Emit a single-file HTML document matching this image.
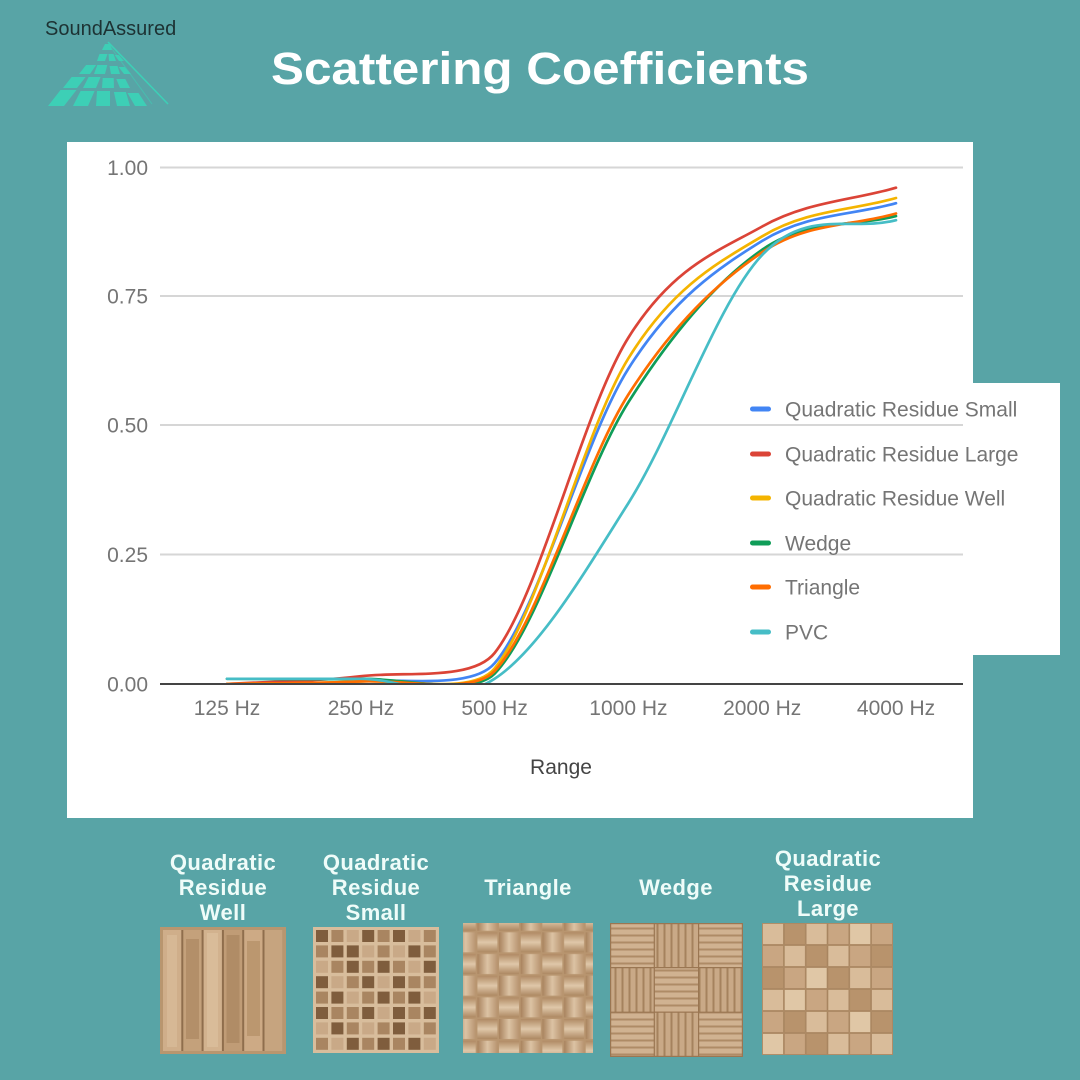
<!DOCTYPE html>
<html><head><meta charset="utf-8"><style>
html,body{margin:0;padding:0;background:#58a4a6;}
svg{display:block;font-family:"Liberation Sans",Arial,sans-serif;}
.d{fill:#7f5d3d}.m{fill:#a98561}.l{fill:#c9a987}
.qa{fill:#d9bc9a}.qb{fill:#c9a682}.qc{fill:#b8936c}.qe{fill:#e0c7a6}
</style></head><body>
<svg width="1080" height="1080" viewBox="0 0 1080 1080" xmlns="http://www.w3.org/2000/svg">
<defs>
<clipPath id="plot"><rect x="160" y="140" width="805" height="544"/></clipPath>
<linearGradient id="tg1" x1="0" y1="0" x2="1" y2="0"><stop offset="0" stop-color="#a8825d"/><stop offset="0.5" stop-color="#dcc3a4"/><stop offset="1" stop-color="#b89470"/></linearGradient>
<linearGradient id="tg2" x1="0" y1="0" x2="0" y2="1"><stop offset="0" stop-color="#b08a64"/><stop offset="0.5" stop-color="#dfc7a9"/><stop offset="1" stop-color="#ad8862"/></linearGradient>
<pattern id="tri" width="43.33" height="43.33" patternUnits="userSpaceOnUse">
<rect width="43.33" height="43.33" fill="#b8956f"/>
<rect x="0.8" y="0.8" width="20" height="20" fill="url(#tg1)"/>
<rect x="22.4" y="0.8" width="20" height="20" fill="url(#tg2)"/>
<rect x="0.8" y="22.4" width="20" height="20" fill="url(#tg2)"/>
<rect x="22.4" y="22.4" width="20" height="20" fill="url(#tg1)"/>
</pattern>
<pattern id="hs" width="12" height="7" patternUnits="userSpaceOnUse"><rect width="12" height="7" fill="#d0b291"/><rect y="4.5" width="12" height="2" fill="#ae8b66"/></pattern>
<pattern id="vs" width="7" height="12" patternUnits="userSpaceOnUse"><rect width="7" height="12" fill="#c9a987"/><rect x="4.5" width="2" height="12" fill="#a5825e"/></pattern>
</defs>

<rect width="1080" height="1080" fill="#58a4a6"/>

<!-- Logo -->
<text x="45" y="35" font-size="20" fill="#1d3233">SoundAssured</text>
<g fill="#3dcfb6">
<polygon points="60.5,90 76.5,90 64,106 48,106"/>
<polygon points="80.6,91 94.6,91 88,106 73,106"/>
<polygon points="97,91 110,91 110,106 96,106"/>
<polygon points="113.9,92 125.9,92 130,106 117,106"/>
<polygon points="127.5,93 138.5,93 147,106 135,106"/>
<polygon points="71.6,77 85.6,77 77,88 63,88"/>
<polygon points="88.6,77 100.6,77 96,88 83,88"/>
<polygon points="102.7,78 113.7,78 114,88 102,88"/>
<polygon points="116.3,79 125.3,79 130,88 120,88"/>
<polygon points="86.1,65 96.1,65 90,74 79,74"/>
<polygon points="97.3,65 107.3,65 105,74 94,74"/>
<polygon points="109.5,66 117.5,66 120,74 111,74"/>
<polygon points="118.6,67 124.6,67 131,74 124,74"/>
<polygon points="99.5,54 107.5,54 105,61 97,61"/>
<polygon points="108.5,54 113.5,54 116,61 109,61"/>
<polygon points="114.7,55 118.7,55 124,61 119,61"/>
<polygon points="105,44 110,44 112,50 102,50"/>
</g>
<line x1="108" y1="42" x2="168" y2="104" stroke="#3dcfb6" stroke-width="1.6"/>
<line x1="110" y1="46" x2="152" y2="104" stroke="#3dcfb6" stroke-width="1" opacity="0.6"/>

<!-- Title -->
<text x="271" y="84" font-size="45" font-weight="bold" fill="#ffffff" textLength="538" lengthAdjust="spacingAndGlyphs">Scattering Coefficients</text>

<!-- Chart panel -->
<rect x="67" y="142" width="906" height="676" fill="#ffffff"/>
<rect x="973" y="383" width="87" height="272" fill="#ffffff"/>

<!-- gridlines -->
<g stroke="#d6d6d6" stroke-width="2">
<line x1="160" y1="167.5" x2="963" y2="167.5"/>
<line x1="160" y1="296" x2="963" y2="296"/>
<line x1="160" y1="425" x2="963" y2="425"/>
<line x1="160" y1="554.5" x2="963" y2="554.5"/>
</g>

<!-- y labels -->
<g font-size="21" fill="#757575" text-anchor="end">
<text x="148" y="175">1.00</text>
<text x="148" y="303.5">0.75</text>
<text x="148" y="432.5">0.50</text>
<text x="148" y="562">0.25</text>
<text x="148" y="691.5">0.00</text>
</g>

<!-- series -->
<g clip-path="url(#plot)" fill="none" stroke-width="2.7" stroke-linecap="round" stroke-linejoin="round">
<path stroke="#4285f4" d="M227,684 C271.6,683.13 316.2,684.85 360.8,681.4 C405.4,677.95 472.3,689.4 494.6,663.3 C539.2,611.17 583.8,439 628.4,368.6 C673,298.2 717.6,268.47 762.2,240.9 C806.8,213.33 851.4,215.77 896,203.2"/>
<path stroke="#db4437" d="M227,684 C271.6,681.4 316.2,681.37 360.8,676.2 C405.4,671.03 472.3,681.2 494.6,653 C539.2,596.57 583.8,408.68 628.4,337.6 C673,266.52 717.6,251.48 762.2,226.5 C806.8,201.52 851.4,200.63 896,187.7"/>
<path stroke="#f4b400" d="M227,684 C271.6,683.13 316.2,683.98 360.8,681.4 C405.4,678.82 472.3,695.4 494.6,668.5 C539.2,614.65 583.8,430.33 628.4,358.3 C673,286.27 717.6,263.02 762.2,236.3 C806.8,209.58 851.4,210.77 896,198"/>
<path stroke="#0f9d58" d="M227,678.8 C271.6,678.8 316.2,679.65 360.8,678.8 C405.4,677.95 472.3,696.75 494.6,673.7 C539.2,627.6 583.8,472.87 628.4,402.2 C673,331.53 717.6,280.72 762.2,249.7 C806.8,218.68 851.4,227.3 896,216.1"/>
<path stroke="#ff6d00" d="M227,684 C271.6,683.13 316.2,683.55 360.8,681.4 C405.4,679.25 472.3,695 494.6,671.1 C539.2,623.28 583.8,464.3 628.4,394.5 C673,324.7 717.6,282.47 762.2,252.3 C806.8,222.13 851.4,226.43 896,213.5"/>
<path stroke="#46bdc6" d="M227,678.8 C271.6,678.8 316.2,678.8 360.8,678.8 C405.4,678.8 450,708.08 494.6,678.8 C539.2,649.52 583.8,573.75 628.4,503.1 C673,432.45 717.6,302.05 762.2,254.9 C806.8,207.75 851.4,231.77 896,220.2"/>
</g>

<!-- baseline -->
<line x1="160" y1="684" x2="963" y2="684" stroke="#444" stroke-width="2"/>

<!-- x labels -->
<g font-size="21" fill="#757575" text-anchor="middle">
<text x="227" y="715">125 Hz</text>
<text x="361" y="715">250 Hz</text>
<text x="494.6" y="715">500 Hz</text>
<text x="628.4" y="715">1000 Hz</text>
<text x="762.2" y="715">2000 Hz</text>
<text x="896" y="715">4000 Hz</text>
</g>
<text x="561" y="774" font-size="21" fill="#444" text-anchor="middle">Range</text>

<!-- legend -->
<g>
<rect x="750" y="406.5" width="21" height="5" rx="2.5" fill="#4285f4"/>
<rect x="750" y="451.5" width="21" height="5" rx="2.5" fill="#db4437"/>
<rect x="750" y="495.5" width="21" height="5" rx="2.5" fill="#f4b400"/>
<rect x="750" y="540.5" width="21" height="5" rx="2.5" fill="#0f9d58"/>
<rect x="750" y="584.5" width="21" height="5" rx="2.5" fill="#ff6d00"/>
<rect x="750" y="629.5" width="21" height="5" rx="2.5" fill="#46bdc6"/>
</g>
<g font-size="21" fill="#757575">
<text x="785" y="416.5">Quadratic Residue Small</text>
<text x="785" y="461.5">Quadratic Residue Large</text>
<text x="785" y="505.5">Quadratic Residue Well</text>
<text x="785" y="550.5">Wedge</text>
<text x="785" y="594.5">Triangle</text>
<text x="785" y="639.5">PVC</text>
</g>

<!-- product labels -->
<g font-size="22" font-weight="bold" fill="#effcf9" text-anchor="middle" letter-spacing="0.4">
<text x="223" y="870">Quadratic</text>
<text x="223" y="895">Residue</text>
<text x="223" y="920">Well</text>
<text x="376" y="870">Quadratic</text>
<text x="376" y="895">Residue</text>
<text x="376" y="920">Small</text>
<text x="528" y="895">Triangle</text>
<text x="676" y="895">Wedge</text>
<text x="828" y="866">Quadratic</text>
<text x="828" y="891">Residue</text>
<text x="828" y="916">Large</text>
</g>

<!-- QRW -->
<g transform="translate(160,927)">
<rect width="126" height="127" fill="#b8966f"/>
<rect x="3" y="3" width="120" height="121" fill="#8f6e4d"/>
<rect x="3" y="3" width="18.3" height="121" fill="#cfae8a"/>
<rect x="23.3" y="3" width="18.3" height="121" fill="#c4a17b"/>
<rect x="43.6" y="3" width="18.3" height="121" fill="#d2b28e"/>
<rect x="63.9" y="3" width="18.3" height="121" fill="#c09c76"/>
<rect x="84.2" y="3" width="18.3" height="121" fill="#cdaa85"/>
<rect x="104.5" y="3" width="18.3" height="121" fill="#c6a47f"/>
<rect x="26" y="12" width="13" height="100" fill="#b38f69"/>
<rect x="66.5" y="8" width="13" height="108" fill="#b08c66"/>
<rect x="87" y="14" width="13" height="95" fill="#bb976f"/>
<rect x="7" y="8" width="10" height="112" fill="#d6b895"/>
<rect x="47" y="6" width="11" height="114" fill="#d9bc99"/>
</g>

<!-- QRS -->
<g transform="translate(313,927)">
<rect width="126" height="126" fill="#d8bd9c"/>
<g>
<rect class="d" x="3" y="3" width="12" height="12"/><rect class="m" x="18.4" y="3" width="12" height="12"/><rect class="l" x="33.8" y="3" width="12" height="12"/><rect class="d" x="49.2" y="3" width="12" height="12"/><rect class="m" x="64.6" y="3" width="12" height="12"/><rect class="d" x="80" y="3" width="12" height="12"/><rect class="l" x="95.4" y="3" width="12" height="12"/><rect class="m" x="110.8" y="3" width="12" height="12"/>
<rect class="m" x="3" y="18.4" width="12" height="12"/><rect class="d" x="18.4" y="18.4" width="12" height="12"/><rect class="d" x="33.8" y="18.4" width="12" height="12"/><rect class="l" x="49.2" y="18.4" width="12" height="12"/><rect class="m" x="64.6" y="18.4" width="12" height="12"/><rect class="l" x="80" y="18.4" width="12" height="12"/><rect class="d" x="95.4" y="18.4" width="12" height="12"/><rect class="m" x="110.8" y="18.4" width="12" height="12"/>
<rect class="l" x="3" y="33.8" width="12" height="12"/><rect class="m" x="18.4" y="33.8" width="12" height="12"/><rect class="d" x="33.8" y="33.8" width="12" height="12"/><rect class="m" x="49.2" y="33.8" width="12" height="12"/><rect class="d" x="64.6" y="33.8" width="12" height="12"/><rect class="m" x="80" y="33.8" width="12" height="12"/><rect class="l" x="95.4" y="33.8" width="12" height="12"/><rect class="d" x="110.8" y="33.8" width="12" height="12"/>
<rect class="d" x="3" y="49.2" width="12" height="12"/><rect class="l" x="18.4" y="49.2" width="12" height="12"/><rect class="m" x="33.8" y="49.2" width="12" height="12"/><rect class="d" x="49.2" y="49.2" width="12" height="12"/><rect class="l" x="64.6" y="49.2" width="12" height="12"/><rect class="d" x="80" y="49.2" width="12" height="12"/><rect class="m" x="95.4" y="49.2" width="12" height="12"/><rect class="m" x="110.8" y="49.2" width="12" height="12"/>
<rect class="m" x="3" y="64.6" width="12" height="12"/><rect class="d" x="18.4" y="64.6" width="12" height="12"/><rect class="l" x="33.8" y="64.6" width="12" height="12"/><rect class="m" x="49.2" y="64.6" width="12" height="12"/><rect class="d" x="64.6" y="64.6" width="12" height="12"/><rect class="m" x="80" y="64.6" width="12" height="12"/><rect class="d" x="95.4" y="64.6" width="12" height="12"/><rect class="l" x="110.8" y="64.6" width="12" height="12"/>
<rect class="d" x="3" y="80" width="12" height="12"/><rect class="m" x="18.4" y="80" width="12" height="12"/><rect class="m" x="33.8" y="80" width="12" height="12"/><rect class="d" x="49.2" y="80" width="12" height="12"/><rect class="l" x="64.6" y="80" width="12" height="12"/><rect class="d" x="80" y="80" width="12" height="12"/><rect class="m" x="95.4" y="80" width="12" height="12"/><rect class="d" x="110.8" y="80" width="12" height="12"/>
<rect class="l" x="3" y="95.4" width="12" height="12"/><rect class="d" x="18.4" y="95.4" width="12" height="12"/><rect class="m" x="33.8" y="95.4" width="12" height="12"/><rect class="l" x="49.2" y="95.4" width="12" height="12"/><rect class="m" x="64.6" y="95.4" width="12" height="12"/><rect class="d" x="80" y="95.4" width="12" height="12"/><rect class="l" x="95.4" y="95.4" width="12" height="12"/><rect class="m" x="110.8" y="95.4" width="12" height="12"/>
<rect class="m" x="3" y="110.8" width="12" height="12"/><rect class="l" x="18.4" y="110.8" width="12" height="12"/><rect class="d" x="33.8" y="110.8" width="12" height="12"/><rect class="m" x="49.2" y="110.8" width="12" height="12"/><rect class="d" x="64.6" y="110.8" width="12" height="12"/><rect class="m" x="80" y="110.8" width="12" height="12"/><rect class="d" x="95.4" y="110.8" width="12" height="12"/><rect class="l" x="110.8" y="110.8" width="12" height="12"/>
</g>
</g>

<!-- Triangle -->
<rect x="463" y="923" width="130" height="130" fill="url(#tri)"/>

<!-- Wedge -->
<g transform="translate(610,923)">
<rect x="0" y="0" width="44.3" height="44.6" fill="url(#hs)"/>
<rect x="44.3" y="0" width="44.3" height="44.6" fill="url(#vs)"/>
<rect x="88.6" y="0" width="44.4" height="44.6" fill="url(#hs)"/>
<rect x="0" y="44.6" width="44.3" height="44.6" fill="url(#vs)"/>
<rect x="44.3" y="44.6" width="44.3" height="44.6" fill="url(#hs)"/>
<rect x="88.6" y="44.6" width="44.4" height="44.6" fill="url(#vs)"/>
<rect x="0" y="89.2" width="44.3" height="44.8" fill="url(#hs)"/>
<rect x="44.3" y="89.2" width="44.3" height="44.8" fill="url(#vs)"/>
<rect x="88.6" y="89.2" width="44.4" height="44.8" fill="url(#hs)"/>
<g fill="none" stroke="#9a7652" stroke-width="1.2">
<rect x="0.6" y="0.6" width="131.8" height="132.8"/>
<line x1="44.3" y1="0" x2="44.3" y2="134"/><line x1="88.6" y1="0" x2="88.6" y2="134"/>
<line x1="0" y1="44.6" x2="133" y2="44.6"/><line x1="0" y1="89.2" x2="133" y2="89.2"/>
</g>
</g>

<!-- QRL -->
<g transform="translate(762,923)" stroke="#a88560" stroke-width="0.8">
<rect width="131" height="132" fill="#c4a17c" stroke="none"/>
<rect class="qa" x="0.5" y="0.5" width="21" height="21"/><rect class="qc" x="22.3" y="0.5" width="21" height="21"/><rect class="qa" x="44.1" y="0.5" width="21" height="21"/><rect class="qb" x="65.9" y="0.5" width="21" height="21"/><rect class="qe" x="87.7" y="0.5" width="21" height="21"/><rect class="qb" x="109.5" y="0.5" width="21" height="21"/>
<rect class="qb" x="0.5" y="22.5" width="21" height="21"/><rect class="qa" x="22.3" y="22.5" width="21" height="21"/><rect class="qc" x="44.1" y="22.5" width="21" height="21"/><rect class="qa" x="65.9" y="22.5" width="21" height="21"/><rect class="qb" x="87.7" y="22.5" width="21" height="21"/><rect class="qc" x="109.5" y="22.5" width="21" height="21"/>
<rect class="qc" x="0.5" y="44.5" width="21" height="21"/><rect class="qb" x="22.3" y="44.5" width="21" height="21"/><rect class="qe" x="44.1" y="44.5" width="21" height="21"/><rect class="qc" x="65.9" y="44.5" width="21" height="21"/><rect class="qa" x="87.7" y="44.5" width="21" height="21"/><rect class="qb" x="109.5" y="44.5" width="21" height="21"/>
<rect class="qa" x="0.5" y="66.5" width="21" height="21"/><rect class="qe" x="22.3" y="66.5" width="21" height="21"/><rect class="qb" x="44.1" y="66.5" width="21" height="21"/><rect class="qa" x="65.9" y="66.5" width="21" height="21"/><rect class="qc" x="87.7" y="66.5" width="21" height="21"/><rect class="qa" x="109.5" y="66.5" width="21" height="21"/>
<rect class="qb" x="0.5" y="88.5" width="21" height="21"/><rect class="qc" x="22.3" y="88.5" width="21" height="21"/><rect class="qa" x="44.1" y="88.5" width="21" height="21"/><rect class="qb" x="65.9" y="88.5" width="21" height="21"/><rect class="qe" x="87.7" y="88.5" width="21" height="21"/><rect class="qc" x="109.5" y="88.5" width="21" height="21"/>
<rect class="qe" x="0.5" y="110.5" width="21" height="21"/><rect class="qb" x="22.3" y="110.5" width="21" height="21"/><rect class="qc" x="44.1" y="110.5" width="21" height="21"/><rect class="qa" x="65.9" y="110.5" width="21" height="21"/><rect class="qb" x="87.7" y="110.5" width="21" height="21"/><rect class="qa" x="109.5" y="110.5" width="21" height="21"/>
</g>
</svg>
</body></html>
